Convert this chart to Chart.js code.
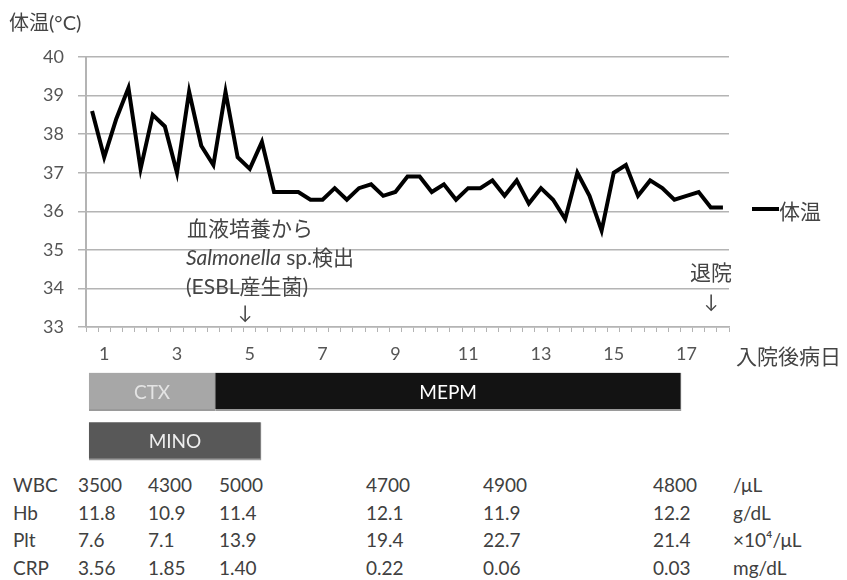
<!DOCTYPE html>
<html lang="ja">
<head>
<meta charset="utf-8">
<script src="https://cdn.jsdelivr.net/npm/chart.js@4.4.0/dist/chart.umd.min.js"></script>
<style>
  body { margin: 0; background: #fff; }
  #wrap { position: relative; width: 847px; height: 580px; overflow: hidden;
          font-family: Lato, "Noto Sans CJK JP", sans-serif; color: #444; }
  #wrap canvas { position: absolute; left: 0; }
  .t { position: absolute; white-space: nowrap; line-height: 1; }
</style>
</head>
<body>
<div id="wrap">
  <canvas id="tempChart" width="847" height="367" style="top:0"></canvas>
  <canvas id="drugChart" width="847" height="99" style="top:367px"></canvas>

  <div class="t" style="left:9px; top:12px; font-size:20px">体温(°C)</div>
  <div class="t" style="left:736px; top:345px; font-size:21px">入院後病日</div>

  <div class="t" style="left:187px; top:217px; font-size:21px">血液培養から</div>
  <div class="t" style="left:186px; top:246px; font-size:21px"><i>Salmonella</i> sp.検出</div>
  <div class="t" style="left:186px; top:275px; font-size:21px">(ESBL産生菌)</div>
  <div class="t" style="left:238px; top:302px; font-size:19px">↓</div>
  <div class="t" style="left:690px; top:261px; font-size:21px">退院</div>
  <div class="t" style="left:704px; top:291px; font-size:19px">↓</div>

  <div style="position:absolute; left:752px; top:207px; width:27px; height:4px; background:#000"></div>
  <div class="t" style="left:779px; top:200px; font-size:21px">体温</div>

  <div id="labTable"></div>
</div>

<script>
// 体温 (1日3回測定, 入院後病日1〜18)
const readingsPerDay = 3;
const dayTicks = [1, 3, 5, 7, 9, 11, 13, 15, 17];
const temps = [
  38.6, 37.4, 38.4, 39.2, 37.1, 38.5, 38.2, 37.0, 39.1, 37.7,
  37.2, 39.1, 37.4, 37.1, 37.8, 36.5, 36.5, 36.5, 36.3, 36.3,
  36.6, 36.3, 36.6, 36.7, 36.4, 36.5, 36.9, 36.9, 36.5, 36.7,
  36.3, 36.6, 36.6, 36.8, 36.4, 36.8, 36.2, 36.6, 36.3, 35.8,
  37.0, 36.4, 35.5, 37.0, 37.2, 36.4, 36.8, 36.6, 36.3, 36.4,
  36.5, 36.1, 36.1
];
const yMin = 33;
const yMax = 40;

// 抗菌薬投与期間 (病日)
const drugNames = ["CTX", "MEPM", "MINO"];
const drugStart = [0.58, 4.05, 0.58];
const drugEnd = [4.05, 16.85, 5.31];
const drugRow = [0, 0, 1];
const drugColors = ["#a7a7a7", "#131313", "#585858"];
const drugTextColors = ["#e4e4e4", "#ffffff", "#eeeeee"];

// 検査値
const labNames = ["WBC", "Hb", "Plt", "CRP"];
const labUnits = ["/μL", "g/dL", "×10⁴/μL", "mg/dL"];
const wbc = ["3500", "4300", "5000", "4700", "4900", "4800"];
const hb = ["11.8", "10.9", "11.4", "12.1", "11.9", "12.2"];
const plt = ["7.6", "7.1", "13.9", "19.4", "22.7", "21.4"];
const crp = ["3.56", "1.85", "1.40", "0.22", "0.06", "0.03"];

const labels = temps.map((_, i) => {
  const day = Math.floor(i / readingsPerDay) + 1;
  return (i % readingsPerDay === 1 && dayTicks.includes(day)) ? String(day) : "";
});

const tickFont = { family: 'Lato, "Noto Sans CJK JP", sans-serif', size: 18 };
const gridColor = "#b4b4b4";

new Chart(document.getElementById("tempChart").getContext("2d"), {
  type: "line",
  data: {
    labels: labels,
    datasets: [{
      label: "体温",
      data: temps,
      borderColor: "#000",
      borderWidth: 4,
      borderJoinStyle: "miter",
      pointRadius: 0,
      tension: 0,
      fill: false
    }]
  },
  options: {
    responsive: false,
    animation: false,
    layout: { padding: { top: 57, right: 118, left: 0, bottom: 0 } },
    plugins: {
      legend: { display: false },
      tooltip: { enabled: false }
    },
    scales: {
      x: {
        offset: true,
        afterFit: s => { s.height = 40; },
        grid: { offset: true, drawOnChartArea: false, tickLength: 5, color: gridColor, lineWidth: 1 },
        border: { color: gridColor, width: 1.5 },
        ticks: { autoSkip: false, maxRotation: 0, padding: 11, color: "#555", font: tickFont }
      },
      y: {
        min: yMin,
        max: yMax,
        afterFit: s => { s.width = 86; },
        grid: { color: gridColor, lineWidth: 1.5, tickLength: 8 },
        border: { color: gridColor, width: 2 },
        ticks: { stepSize: 1, padding: 14, color: "#555", font: tickFont }
      }
    }
  }
});

// 投与期間バー
const barLabels = {
  id: "barLabels",
  afterDatasetsDraw(chart) {
    const ctx = chart.ctx;
    ctx.save();
    ctx.font = '19px Lato, "Noto Sans CJK JP", sans-serif';
    ctx.textAlign = "center";
    ctx.textBaseline = "middle";
    chart.data.datasets.forEach((ds, i) => {
      chart.getDatasetMeta(i).data.forEach((el, j) => {
        if (!ds.data[j]) return;
        ctx.fillStyle = drugTextColors[i];
        ctx.fillText(ds.label, (el.x + el.base) / 2, el.y + 1);
      });
    });
    ctx.restore();
  }
};

new Chart(document.getElementById("drugChart").getContext("2d"), {
  type: "bar",
  data: {
    labels: ["row1", "row2"],
    datasets: drugNames.map((name, i) => ({
      label: name,
      data: [0, 1].map(r => r === drugRow[i] ? [drugStart[i], drugEnd[i]] : null),
      backgroundColor: drugColors[i],
      borderColor: "#9a9a9a",
      borderWidth: { bottom: 2, right: 1 },
      borderSkipped: false,
      grouped: false,
      barThickness: 38
    }))
  },
  options: {
    indexAxis: "y",
    responsive: false,
    animation: false,
    layout: { padding: { left: 86, right: 118, top: 0, bottom: 0 } },
    plugins: { legend: { display: false }, tooltip: { enabled: false } },
    scales: {
      x: { type: "linear", min: 0.5, max: 0.5 + temps.length / readingsPerDay, display: false },
      y: { display: false }
    }
  },
  plugins: [barLabels]
});

// 検査値テーブル
const labRows = [wbc, hb, plt, crp];
const colX = [78, 148, 219, 366, 483, 653];
const unitX = 733;
const rowY = [475, 503, 530, 558];
const table = document.getElementById("labTable");
labRows.forEach((row, r) => {
  const add = (text, x) => {
    const d = document.createElement("div");
    d.className = "t";
    d.style.cssText = `left:${x}px; top:${rowY[r]}px; font-size:19px; color:#404040`;
    d.textContent = text;
    table.appendChild(d);
  };
  add(labNames[r], 13);
  row.forEach((v, c) => add(v, colX[c]));
  add(labUnits[r], unitX);
});
</script>
</body>
</html>
